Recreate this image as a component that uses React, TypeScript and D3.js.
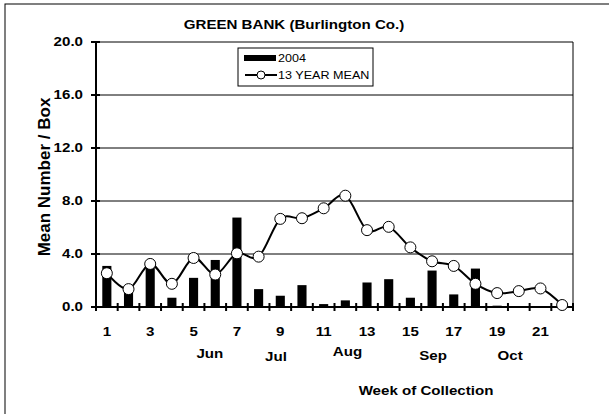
import React from "react";
import * as d3 from "d3";

const weeks = d3.range(1, 23);
const bars2004 = [3.1, 1.1, 3.0, 0.7, 2.2, 3.55, 6.75, 1.35, 0.85, 1.65, 0.22, 0.5, 1.85, 2.1, 0.7, 2.75, 0.95, 2.9, 0.1, 0.03, 0.0, 0.0];
const mean13 = [2.55, 1.35, 3.25, 1.75, 3.7, 2.45, 4.05, 3.8, 6.65, 6.7, 7.45, 8.4, 5.8, 6.05, 4.5, 3.45, 3.1, 1.75, 1.05, 1.2, 1.4, 0.15];
const yTicks = [0, 4, 8, 12, 16, 20];
const weekLabels = [1, 3, 5, 7, 9, 11, 13, 15, 17, 19, 21];
// month labels sit at fractional week positions
const months = [
  { name: "Jun", week: 5.75, dy: 0 },
  { name: "Jul", week: 8.8, dy: 3 },
  { name: "Aug", week: 12.1, dy: -2 },
  { name: "Sep", week: 16.05, dy: 2 },
  { name: "Oct", week: 19.6, dy: 2 },
];

const W = 609;
const H = 414;
const left = 96;
const right = 573;
const top = 42;
const bottom = 307;
const font = "Arial, 'Liberation Sans', sans-serif";
const SX = 1.26; // text in the picture is stretched horizontally

function T(props: { x: number; y: number; anchor?: string; size?: number; bold?: boolean; children: React.ReactNode }) {
  const { x, y, anchor = "middle", size = 12, bold = true, children } = props;
  return (
    <text
      transform={`translate(${x},${y}) scale(${SX},1)`}
      textAnchor={anchor}
      fontFamily={font}
      fontWeight={bold ? "bold" : "normal"}
      fontSize={size}
    >
      {children}
    </text>
  );
}

export default function App() {
  const x = d3.scaleBand<number>().domain(weeks).range([left, right]).padding(0);
  const y = d3.scaleLinear().domain([0, 20]).range([bottom, top]);
  const cx = (w: number) => (x(w) as number) + x.bandwidth() / 2;
  const wx = d3.scaleLinear().domain([1, 22]).range([cx(1), cx(22)]);
  const barW = x.bandwidth() * 0.42;

  const line = d3
    .line<number>()
    .x((d, i) => cx(weeks[i]))
    .y((d) => y(d))
    .curve(d3.curveCardinal.tension(0));

  return (
    <svg width={W} height={H} style={{ position: "absolute", left: 0, top: 0, background: "#fff" }}>
      <rect x={5} y={4} width={W + 10} height={H + 10} fill="none" stroke="#000" strokeWidth={1} />
      <T x={294} y={29}>GREEN BANK (Burlington Co.)</T>

      {/* grid */}
      {yTicks.filter((t) => t > 0).map((t) => (
        <line key={t} x1={left} x2={right} y1={y(t)} y2={y(t)} stroke="#000" strokeWidth={1} />
      ))}
      <line x1={right} x2={right} y1={top} y2={bottom} stroke="#000" strokeWidth={1} />

      {/* bars */}
      {bars2004.map((v, i) => (
        <rect key={i} x={cx(weeks[i]) - barW / 2} y={y(v)} width={barW} height={bottom - y(v)} fill="#000" />
      ))}

      {/* axes */}
      <line x1={left} x2={left} y1={top - 1} y2={bottom + 1} stroke="#000" strokeWidth={2} />
      <line x1={left - 1} x2={right + 1} y1={bottom} y2={bottom} stroke="#000" strokeWidth={2} />
      {yTicks.map((t) => (
        <g key={t}>
          <line x1={left - 5} x2={left + 4} y1={y(t)} y2={y(t)} stroke="#000" strokeWidth={2} />
          <T x={83} y={y(t) + 4} anchor="end">{t.toFixed(1)}</T>
        </g>
      ))}
      {weeks.concat([23]).map((w) => {
        const xx = w <= 22 ? (x(w) as number) : right;
        return <line key={w} x1={xx} x2={xx} y1={bottom - 4} y2={bottom + 4} stroke="#000" strokeWidth={2} />;
      })}

      {/* mean line */}
      <path d={line(mean13) || ""} fill="none" stroke="#000" strokeWidth={2} />
      {mean13.map((v, i) => (
        <circle key={i} cx={cx(weeks[i])} cy={y(v)} r={5.5} fill="#fff" stroke="#000" strokeWidth={1} />
      ))}

      {/* x labels */}
      {weekLabels.map((w) => (
        <T key={w} x={cx(w)} y={336}>{w}</T>
      ))}
      {months.map((m) => (
        <T key={m.name} x={wx(m.week)} y={358 + m.dy}>{m.name}</T>
      ))}
      <T x={426} y={395}>Week of Collection</T>
      <text
        transform="translate(50,177) rotate(-90)"
        textAnchor="middle"
        fontFamily={font}
        fontWeight="bold"
        fontSize={17}
      >
        Mean Number / Box
      </text>

      {/* legend */}
      <rect x={238} y={48} width={135} height={38} fill="#fff" stroke="#000" strokeWidth={1} />
      <rect x={244} y={55} width={32} height={6} fill="#000" />
      <T x={278} y={62} anchor="start" size={10} bold={false}>2004</T>
      <line x1={245} x2={277} y1={75} y2={75} stroke="#000" strokeWidth={2} />
      <circle cx={261} cy={75} r={4} fill="#fff" stroke="#000" strokeWidth={1} />
      <T x={278} y={79} anchor="start" size={10} bold={false}>13 YEAR MEAN</T>
    </svg>
  );
}
